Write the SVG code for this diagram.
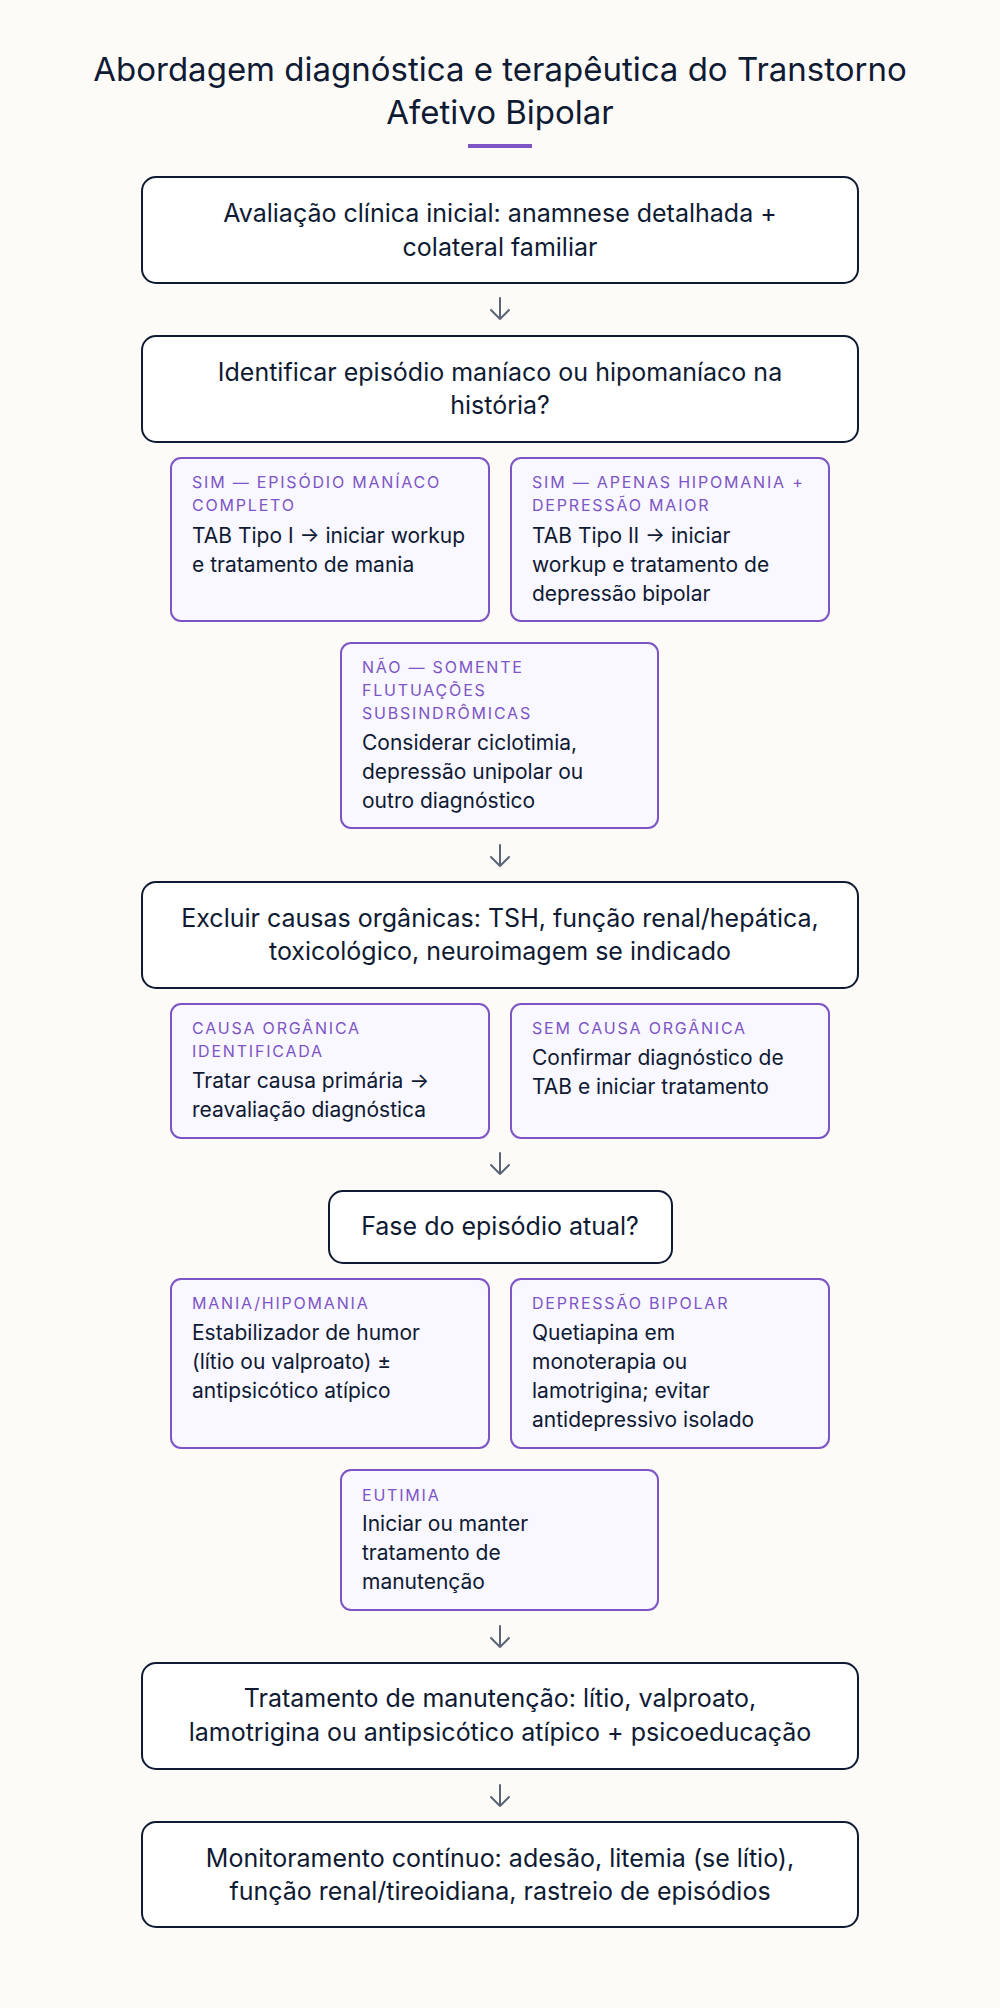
<svg xmlns="http://www.w3.org/2000/svg" width="1000" height="2008" viewBox="0 0 1000 2008">
<style>
.bg{fill:#fdfbf8}
.main{fill:#ffffff;stroke:#0f1a33;stroke-width:2}
.sub{fill:#f9f7ff;stroke:#7d55c4;stroke-width:2}
.t{font-family:Inter,"Liberation Sans",sans-serif;fill:#0f1a33}
.title{font-size:33px;text-anchor:middle}
.mt{font-size:25px;text-anchor:middle}
.lb{font-family:Inter,"Liberation Sans",sans-serif;font-size:16px;fill:#7d55c4;letter-spacing:1.8px}
.bd{font-size:21px}
.arr{fill:none;stroke:#5b6476;stroke-width:2;stroke-linecap:round;stroke-linejoin:round}
</style>
<rect class="bg" x="0" y="0" width="1000" height="2008"/>
<g id="title">
<text class="t title" x="500" y="81">Abordagem diagnóstica e terapêutica do Transtorno</text>
<text class="t title" x="500" y="124">Afetivo Bipolar</text>
<rect x="468" y="144" width="64" height="4" fill="#7d55c4"/>
</g>
<g id="connectors">
<path class="arr" d="M500 298V319M491 310L500 319L509 310"/>
<path class="arr" d="M500 845V866M491 857L500 866L509 857"/>
<path class="arr" d="M500 1153V1174M491 1165L500 1174L509 1165"/>
<path class="arr" d="M500 1626V1647M491 1638L500 1647L509 1638"/>
<path class="arr" d="M500 1785V1806M491 1797L500 1806L509 1797"/>
</g>
<g id="n1">
<rect class="main" x="142" y="177" width="716" height="106" rx="14"/>
<text class="t mt" x="500" y="222">Avaliação clínica inicial: anamnese detalhada +</text>
<text class="t mt" x="500" y="256">colateral familiar</text>
</g>
<g id="n2">
<rect class="main" x="142" y="336" width="716" height="106" rx="14"/>
<text class="t mt" x="500" y="381">Identificar episódio maníaco ou hipomaníaco na</text>
<text class="t mt" x="500" y="414">história?</text>
</g>
<g id="n2a">
<rect class="sub" x="171" y="458" width="318" height="163" rx="10"/>
<text class="lb" x="192" y="488">SIM — EPISÓDIO MANÍACO</text>
<text class="lb" x="192" y="511">COMPLETO</text>
<text class="t bd" x="192" y="543">TAB Tipo I → iniciar workup</text>
<text class="t bd" x="192" y="572">e tratamento de mania</text>
</g>
<g id="n2b">
<rect class="sub" x="511" y="458" width="318" height="163" rx="10"/>
<text class="lb" x="532" y="488">SIM — APENAS HIPOMANIA +</text>
<text class="lb" x="532" y="511">DEPRESSÃO MAIOR</text>
<text class="t bd" x="532" y="543">TAB Tipo II → iniciar</text>
<text class="t bd" x="532" y="572">workup e tratamento de</text>
<text class="t bd" x="532" y="601">depressão bipolar</text>
</g>
<g id="n2c">
<rect class="sub" x="341" y="643" width="317" height="185" rx="10"/>
<text class="lb" x="362" y="673">NÃO — SOMENTE</text>
<text class="lb" x="362" y="696">FLUTUAÇÕES</text>
<text class="lb" x="362" y="719">SUBSINDRÔMICAS</text>
<text class="t bd" x="362" y="750">Considerar ciclotimia,</text>
<text class="t bd" x="362" y="779">depressão unipolar ou</text>
<text class="t bd" x="362" y="808">outro diagnóstico</text>
</g>
<g id="n3">
<rect class="main" x="142" y="882" width="716" height="106" rx="14"/>
<text class="t mt" x="500" y="927">Excluir causas orgânicas: TSH, função renal/hepática,</text>
<text class="t mt" x="500" y="960">toxicológico, neuroimagem se indicado</text>
</g>
<g id="n3a">
<rect class="sub" x="171" y="1004" width="318" height="134" rx="10"/>
<text class="lb" x="192" y="1034">CAUSA ORGÂNICA</text>
<text class="lb" x="192" y="1057">IDENTIFICADA</text>
<text class="t bd" x="192" y="1088">Tratar causa primária →</text>
<text class="t bd" x="192" y="1117">reavaliação diagnóstica</text>
</g>
<g id="n3b">
<rect class="sub" x="511" y="1004" width="318" height="134" rx="10"/>
<text class="lb" x="532" y="1034">SEM CAUSA ORGÂNICA</text>
<text class="t bd" x="532" y="1065">Confirmar diagnóstico de</text>
<text class="t bd" x="532" y="1094">TAB e iniciar tratamento</text>
</g>
<g id="n4">
<rect class="main" x="329" y="1191" width="343" height="72" rx="14"/>
<text class="t mt" x="500" y="1235">Fase do episódio atual?</text>
</g>
<g id="n4a">
<rect class="sub" x="171" y="1279" width="318" height="169" rx="10"/>
<text class="lb" x="192" y="1309">MANIA/HIPOMANIA</text>
<text class="t bd" x="192" y="1340">Estabilizador de humor</text>
<text class="t bd" x="192" y="1369">(lítio ou valproato) ±</text>
<text class="t bd" x="192" y="1398">antipsicótico atípico</text>
</g>
<g id="n4b">
<rect class="sub" x="511" y="1279" width="318" height="169" rx="10"/>
<text class="lb" x="532" y="1309">DEPRESSÃO BIPOLAR</text>
<text class="t bd" x="532" y="1340">Quetiapina em</text>
<text class="t bd" x="532" y="1369">monoterapia ou</text>
<text class="t bd" x="532" y="1398">lamotrigina; evitar</text>
<text class="t bd" x="532" y="1427">antidepressivo isolado</text>
</g>
<g id="n4c">
<rect class="sub" x="341" y="1470" width="317" height="140" rx="10"/>
<text class="lb" x="362" y="1501">EUTIMIA</text>
<text class="t bd" x="362" y="1531">Iniciar ou manter</text>
<text class="t bd" x="362" y="1560">tratamento de</text>
<text class="t bd" x="362" y="1589">manutenção</text>
</g>
<g id="n5">
<rect class="main" x="142" y="1663" width="716" height="106" rx="14"/>
<text class="t mt" x="500" y="1707">Tratamento de manutenção: lítio, valproato,</text>
<text class="t mt" x="500" y="1741">lamotrigina ou antipsicótico atípico + psicoeducação</text>
</g>
<g id="n6">
<rect class="main" x="142" y="1822" width="716" height="105" rx="14"/>
<text class="t mt" x="500" y="1867">Monitoramento contínuo: adesão, litemia (se lítio),</text>
<text class="t mt" x="500" y="1900">função renal/tireoidiana, rastreio de episódios</text>
</g>
</svg>
